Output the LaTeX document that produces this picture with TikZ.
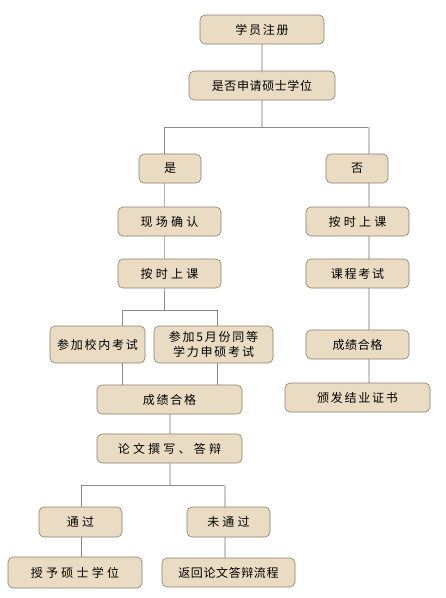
\documentclass[tikz,border=0pt]{standalone}
\usepackage{fontspec}
\newfontfamily\cjkA[LetterSpace=5]{Noto Sans CJK SC}
\newfontfamily\cjkB[LetterSpace=15]{Noto Sans CJK SC}
\newfontfamily\cjkC[LetterSpace=27]{Noto Sans CJK SC}
\definecolor{boxfill}{HTML}{E9DCC3}
\definecolor{boxdraw}{HTML}{8C7E6A}
\definecolor{lndark}{HTML}{8A8A8A}
\definecolor{lnlight}{HTML}{CCCCCC}
\tikzset{
  box/.style={draw=boxdraw, fill=boxfill, rounded corners=5pt, line width=0.6pt, inner sep=0pt, align=center, font=\cjkB\fontsize{12}{14.5}\selectfont},
  fa/.style={font=\cjkA\fontsize{12}{14.5}\selectfont},
  fb/.style={font=\cjkB\fontsize{12}{14.5}\selectfont},
  fc/.style={font=\cjkC\fontsize{12}{14.5}\selectfont},
  dk/.style={draw=lndark, line width=0.8pt},
  lt/.style={draw=lnlight, line width=1.2pt},
}
\newcommand{\bx}[7]{\node[box, #7, minimum width=#4pt, minimum height=#5pt] (#1) at (#2,#3) {#6};}
\begin{document}
\begin{tikzpicture}[x=1pt,y=-1pt]
\useasboundingbox (0,0) rectangle (446,598);
\fill[white] (0,0) rectangle (446,598);
% connector junctions
\coordinate (b1) at (262,127);
\coordinate (b1l) at (164,127);
\coordinate (b1r) at (369,127);
\coordinate (b2) at (164,310);
\coordinate (b2l) at (122,310);
\coordinate (b2r) at (217,310);
\coordinate (b3) at (170,485);
\coordinate (b3l) at (81,485);
\coordinate (b3r) at (225,485);
\coordinate (c1) at (122,399);
\coordinate (c2) at (217,399);
\coordinate (y1) at (164,220);
\coordinate (y2) at (164,273);
\coordinate (n1) at (369,221);
\coordinate (n2) at (369,273);
\coordinate (n3) at (369,344);
\coordinate (n4) at (369,397);
\coordinate (p2) at (81,572);
\coordinate (f2) at (225,572);
\coordinate (t0) at (262,29);
\coordinate (t1) at (170,399);

\draw[lt] (t0) -- (b1);
\draw[dk] (b1l) -- (b1r);
\draw[dk] (b1l) -- (y1) -- (y2) -- (b2);
\draw[lt] (b1r) -- (n1) -- (n2) -- (n3) -- (n4);
\draw[dk] (b2l) -- (b2r);
\draw[dk] (b2l) -- (c1);
\draw[dk] (b2r) -- (c2);
\draw[lt] (t1) -- (b3);
\draw[dk] (b3l) -- (b3r);
\draw[dk] (b3l) -- (p2);
\draw[lt] (b3r) -- (f2);

\bx{reg}{262}{29.5}{124}{29}{学员注册}{fb}
\bx{ask}{262}{85.5}{146}{29}{是否申请硕士学位}{fa}
\bx{yes}{170}{168.5}{62}{29}{是}{fb}
\bx{no}{357}{168.5}{62}{29}{否}{fb}
\bx{conf}{169.5}{221.5}{103}{29}{现场确认}{fc}
\bx{cls1}{169.5}{273.5}{103}{29}{按时上课}{fc}
\bx{cls2}{357.5}{221.5}{103}{29}{按时上课}{fc}
\bx{exam}{357.5}{273.5}{103}{29}{课程考试}{fb}
\bx{ex1}{97.5}{344.5}{95}{37}{参加校内考试}{fb}
\bx{ex2}{213.5}{344.5}{119}{37}{参加5月份同等\\学力申硕考试}{fb}
\bx{pass2}{357.5}{344.5}{103}{29}{成绩合格}{fa}
\bx{pass1}{169.5}{399.5}{145}{29}{成绩合格}{fb}
\bx{cert}{357.5}{397.5}{145}{29}{颁发结业证书}{fb}
\bx{thes}{169.5}{448.5}{145}{29}{论文撰写、答辩}{fc}
\bx{ok}{80.5}{522}{83}{30}{通过}{fc}
\bx{fail}{228.5}{522}{83}{30}{未通过}{fc}
\bx{deg}{75}{572.5}{134}{31}{授予硕士学位}{fc}
\bx{back}{228.5}{572.5}{133}{29}{返回论文答辩流程}{fa}
\end{tikzpicture}
\end{document}
